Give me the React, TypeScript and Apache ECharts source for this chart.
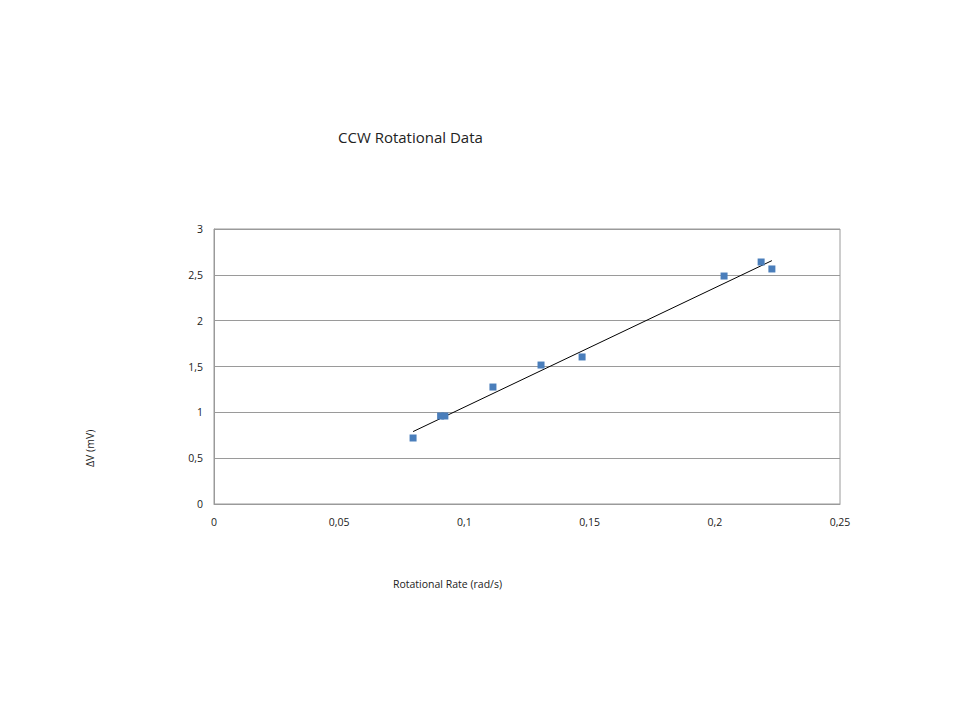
import React, { useEffect, useRef } from "react";
import * as echarts from "echarts";

const rates = [0.0795, 0.0905, 0.0922, 0.1114, 0.1306, 0.147, 0.2037, 0.2185, 0.2228];
const deltaV = [0.72, 0.96, 0.96, 1.276, 1.516, 1.604, 2.487, 2.64, 2.564];
const trendX = [0.0795, 0.2228];
const trendY = [0.79, 2.655];
const titleText = "CCW Rotational Data";
const xName = "Rotational Rate (rad/s)";
const yName = "ΔV (mV)";

const fmt = (v: number) => String(Math.round(v * 1000) / 1000).replace(".", ",");

export default function App() {
  const ref = useRef<HTMLDivElement>(null);
  useEffect(() => {
    if (!ref.current) return;
    const chart = echarts.init(ref.current, undefined, { renderer: "svg" });
    const font = "'Open Sans', 'Liberation Sans', sans-serif";
    chart.setOption({
      animation: false,
      backgroundColor: "#ffffff",
      textStyle: { fontFamily: font },
      title: {
        text: titleText,
        left: 333,
        top: 124,
        textStyle: { fontFamily: font, fontSize: 15, fontWeight: "normal", color: "#222" },
      },
      grid: { left: 214, right: 120, top: 229, bottom: 216, show: true, borderColor: "#9a9a9a", borderWidth: 1 },
      xAxis: {
        type: "value",
        min: 0,
        max: 0.25,
        interval: 0.05,
        axisLine: { show: true, lineStyle: { color: "#9a9a9a" } },
        axisTick: { show: false },
        splitLine: { show: false },
        axisLabel: { formatter: fmt, color: "#222", fontSize: 10.5, margin: 12, fontFamily: font },
      },
      yAxis: {
        type: "value",
        min: 0,
        max: 3,
        interval: 0.5,
        axisLine: { show: true, lineStyle: { color: "#9a9a9a" } },
        axisTick: { show: false },
        splitLine: { show: true, lineStyle: { color: "#9a9a9a" } },
        axisLabel: { formatter: fmt, color: "#222", fontSize: 10.5, margin: 11, fontFamily: font },
      },
      graphic: [
        {
          type: "text",
          left: 393,
          top: 578,
          style: { text: xName, fontSize: 10.5, fill: "#222", fontFamily: font },
        },
        {
          type: "text",
          x: 84,
          y: 467,
          rotation: Math.PI / 2,
          style: { text: yName, fontSize: 10.5, fill: "#222", fontFamily: font },
        },
      ],
      series: [
        {
          type: "scatter",
          data: rates.map((r, i) => [r, deltaV[i]]),
          symbol: "rect",
          symbolSize: 7,
          itemStyle: { color: "#4a7ebb", opacity: 1 },
          z: 3,
        },
        {
          type: "line",
          data: trendX.map((x, i) => [x, trendY[i]]),
          showSymbol: false,
          symbol: "none",
          lineStyle: { color: "#000", width: 1 },
          z: 2,
        },
      ],
    });
    return () => chart.dispose();
  }, []);
  return <div ref={ref} style={{ position: "fixed", left: 0, top: 0, width: 960, height: 720 }} />;
}
